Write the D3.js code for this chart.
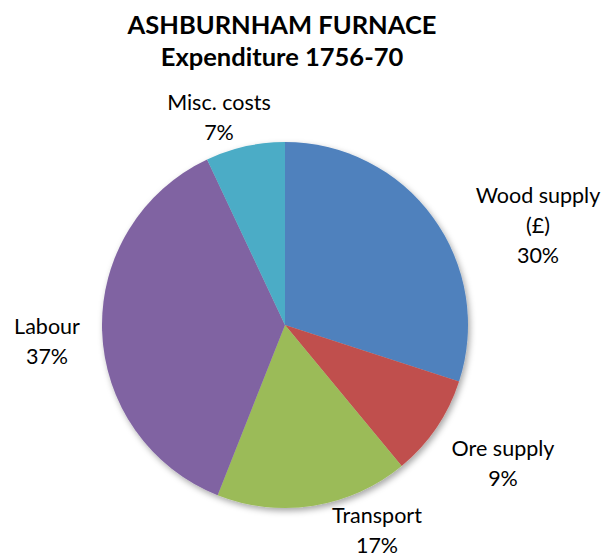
<!DOCTYPE html>
<html><head><meta charset="utf-8">
<script src="https://cdn.jsdelivr.net/npm/d3@7"></script>
<style>body{margin:0;background:#fff}svg{display:block}text{font-family:Lato,"Open Sans",sans-serif;fill:#000}</style>
</head><body>
<script>
const categories = ["Wood supply (£)", "Ore supply", "Transport", "Labour", "Misc. costs"];
const values = [30, 9, 17, 37, 7];
const colors = ["#4F81BD", "#C0504D", "#9BBB59", "#8064A2", "#4BACC6"];
const labelLines = [["Wood supply", "(£)", "30%"], ["Ore supply", "9%"], ["Transport", "17%"], ["Labour", "37%"], ["Misc. costs", "7%"]];
const titleLines = ["ASHBURNHAM FURNACE", "Expenditure 1756-70"];

const W = 607, H = 556;
const svg = d3.select("body").append("svg").attr("width", W).attr("height", H);
const defs = svg.append("defs");
const f = defs.append("filter").attr("id", "sh").attr("x", "-20%").attr("y", "-20%").attr("width", "140%").attr("height", "140%");
f.append("feDropShadow").attr("dx", 2).attr("dy", 3).attr("stdDeviation", 3).attr("flood-color", "#000").attr("flood-opacity", 0.35);

const cx = 285, cy = 325, R = 183;
const pie = d3.pie().sort(null).value(d => d)(values);
const arc = d3.arc().innerRadius(0).outerRadius(R);
const g = svg.append("g").attr("transform", `translate(${cx},${cy})`);
g.append("g").attr("filter", "url(#sh)").selectAll("path").data(pie).join("path")
  .attr("d", arc).attr("fill", (d, i) => colors[i]);

svg.append("g").selectAll("text").data(titleLines).join("text")
  .attr("x", 282).attr("y", (d, i) => 34 + i * 32)
  .attr("text-anchor", "middle").attr("font-weight", "bold").attr("font-size", 25.5).text(d => d);

// label anchor positions (centre x, first baseline y)
const labelPos = [[538, 203], [503, 456], [377, 523], [47, 334], [219, 110]];
const lh = 30;
const lg = svg.append("g").attr("font-size", 21.5);
labelLines.forEach((lines, i) => {
  const t = lg.append("text").attr("text-anchor", "middle").attr("fill", "#262626");
  lines.forEach((s, j) => t.append("tspan").attr("x", labelPos[i][0]).attr("y", labelPos[i][1] + j * lh).text(s));
});
</script>
</body></html>
